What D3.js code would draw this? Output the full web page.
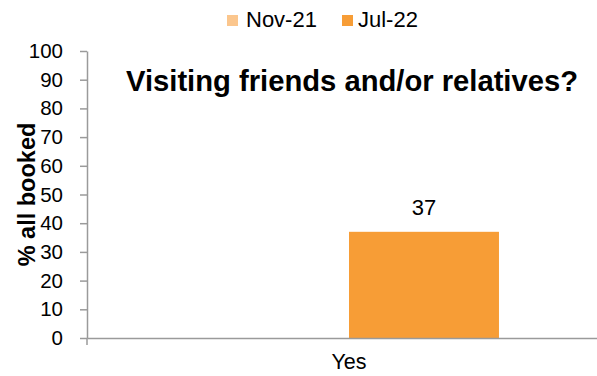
<!DOCTYPE html>
<html>
<head>
<meta charset="utf-8">
<script src="https://cdn.jsdelivr.net/npm/d3@7"></script>
<style>
  html, body { margin: 0; padding: 0; background: #fff; }
  svg { display: block; font-family: "Liberation Sans", Arial, sans-serif; }
</style>
</head>
<body>
<script>
// ---- data ----
const categories = ["Yes"];
const seriesNames = ["Nov-21", "Jul-22"];
const nov21Values = [null];
const jul22Values = [37];
const yTicks = [0, 10, 20, 30, 40, 50, 60, 70, 80, 90, 100];
const seriesColors = ["#FBC68D", "#F79D36"];
const titleText = "Visiting friends and/or relatives?";
const yLabel = "% all booked";

const seriesValues = [nov21Values, jul22Values];

const W = 597, H = 376;
const svg = d3.select("body").append("svg").attr("width", W).attr("height", H);

const plotLeft = 87, plotRight = 611, plotTop = 51, plotBottom = 338;
const axisColor = "#9a9a9a";

const y = d3.scaleLinear().domain([0, 100]).range([plotBottom, plotTop]);
const x0 = d3.scaleBand().domain(categories).range([plotLeft, plotRight]).padding(0);
const x1 = d3.scaleBand().domain(seriesNames).range([0, x0.bandwidth()])
  .paddingInner(0).paddingOuter(0.747);

// bars
const rows = [];
categories.forEach((c, ci) => {
  seriesNames.forEach((s, si) => {
    rows.push({ cat: c, series: s, si, value: seriesValues[si][ci] });
  });
});
const drawn = rows.filter(d => d.value !== null && d.value !== undefined);

svg.append("g").selectAll("rect").data(drawn).join("rect")
  .attr("x", d => x0(d.cat) + x1(d.series))
  .attr("y", d => y(d.value))
  .attr("width", x1.bandwidth())
  .attr("height", d => y(0) - y(d.value))
  .attr("fill", d => seriesColors[d.si]);

// value labels
svg.append("g").selectAll("text").data(drawn).join("text")
  .attr("x", d => x0(d.cat) + x1(d.series) + x1.bandwidth() / 2)
  .attr("y", d => y(d.value) - 17)
  .attr("text-anchor", "middle")
  .attr("font-size", 22)
  .attr("fill", "#000")
  .text(d => d.value);

// y axis
const yAxis = d3.axisLeft(y).tickValues(yTicks).tickSize(7).tickPadding(17).tickSizeOuter(0);
const gy = svg.append("g").attr("transform", `translate(${plotLeft},0)`).call(yAxis);
gy.select(".domain").attr("stroke", axisColor).attr("stroke-width", 1.5);
gy.selectAll(".tick line").attr("stroke", axisColor).attr("stroke-width", 1.5);
gy.selectAll(".tick text").attr("font-size", 20.5).attr("fill", "#000")
  .attr("font-family", "'Liberation Sans', Arial, sans-serif");

// x axis
const xAxis = d3.axisBottom(x0).tickSize(0).tickPadding(16).tickSizeOuter(0);
const gx = svg.append("g").attr("transform", `translate(0,${plotBottom})`).call(xAxis);
gx.select(".domain").attr("stroke", axisColor).attr("stroke-width", 1.5);
gx.selectAll(".tick text").attr("font-size", 21.5).attr("fill", "#000")
  .attr("font-family", "'Liberation Sans', Arial, sans-serif")
  .attr("dy", "0.71em");
// category boundary tick marks
gx.selectAll("line.bound").data([plotLeft, plotRight]).join("line")
  .attr("class", "bound")
  .attr("x1", d => d).attr("x2", d => d)
  .attr("y1", 0).attr("y2", 7)
  .attr("stroke", axisColor).attr("stroke-width", 1.5);

// y label
svg.append("text")
  .attr("transform", `translate(35,${(plotTop + plotBottom) / 2}) rotate(-90)`)
  .attr("text-anchor", "middle")
  .attr("font-size", 23.5).attr("font-weight", "bold").attr("fill", "#000")
  .text(yLabel);

// title
svg.append("text")
  .attr("x", 352).attr("y", 91)
  .attr("text-anchor", "middle")
  .attr("font-size", 29.2).attr("font-weight", "bold").attr("fill", "#000")
  .text(titleText);

// legend
const legendPos = [{ sx: 227, tx: 246 }, { sx: 342, tx: 358 }];
const lg = svg.append("g").selectAll("g").data(seriesNames).join("g");
lg.append("rect")
  .attr("x", (d, i) => legendPos[i].sx).attr("y", 15)
  .attr("width", 11).attr("height", 11)
  .attr("fill", (d, i) => seriesColors[i]);
lg.append("text")
  .attr("x", (d, i) => legendPos[i].tx).attr("y", 27)
  .attr("font-size", 22).attr("fill", "#000")
  .text(d => d);
</script>
</body>
</html>
